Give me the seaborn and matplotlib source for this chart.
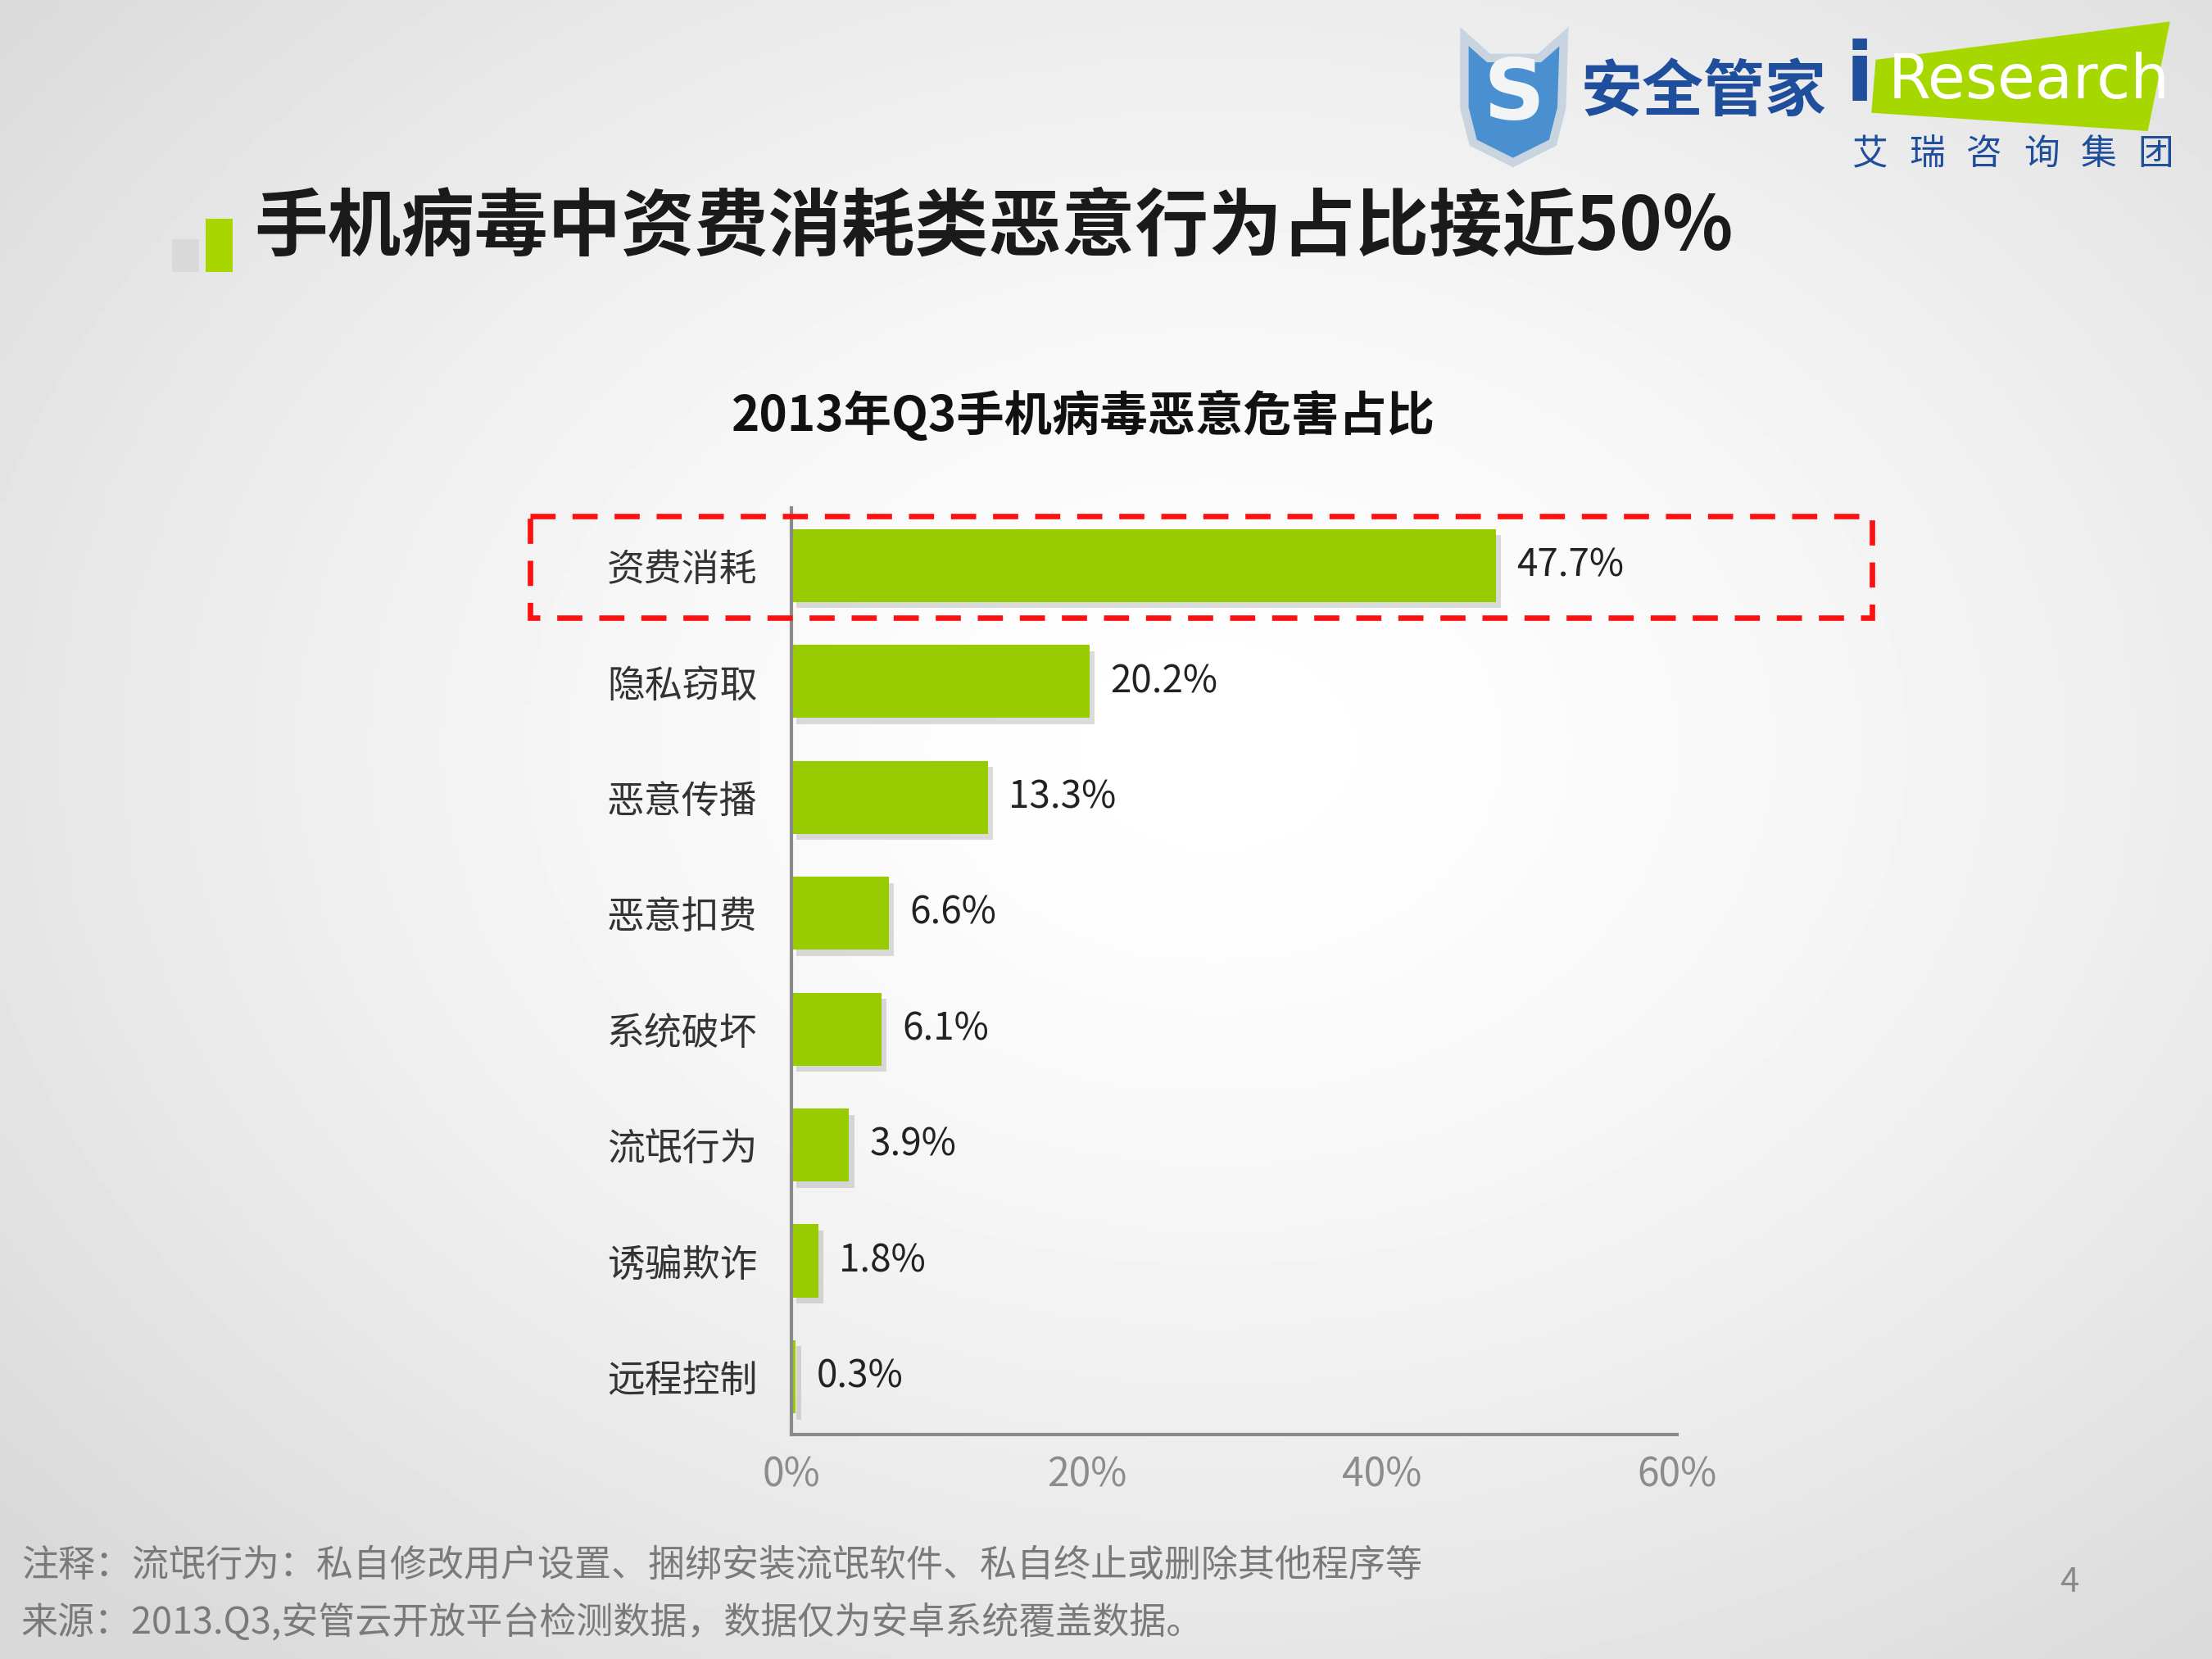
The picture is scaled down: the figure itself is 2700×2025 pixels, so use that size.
import numpy as np
import seaborn as sns
import matplotlib.pyplot as plt
import matplotlib.patches as mpatches
import matplotlib.patheffects as pe
from matplotlib.transforms import blended_transform_factory

# chart data
categories = ['资费消耗', '隐私窃取', '恶意传播', '恶意扣费', '系统破坏', '流氓行为', '诱骗欺诈', '远程控制']
shares = [47.7, 20.2, 13.3, 6.6, 6.1, 3.9, 1.8, 0.3]
xticks = [0, 20, 40, 60]
xtick_labels = ['0%', '20%', '40%', '60%']

main_title = '手机病毒中资费消耗类恶意行为占比接近50%'
chart_title = '2013年Q3手机病毒恶意危害占比'
note_text = '注释：流氓行为：私自修改用户设置、捆绑安装流氓软件、私自终止或删除其他程序等'
source_text = '来源：2013.Q3,安管云开放平台检测数据，数据仅为安卓系统覆盖数据。'

sns.set_style('white')
plt.rcParams['font.family'] = ['Noto Sans CJK SC', 'DejaVu Sans']

fig = plt.figure(figsize=(9, 6.75), dpi=300)

# radial grey-to-white slide background
bg = fig.add_axes([0, 0, 1, 1], zorder=-10)
yy, xx = np.mgrid[0:1:400j, 0:1:400j]
r = np.sqrt(((xx - 0.55) / 0.72) ** 2 + ((yy - 0.55) / 0.72) ** 2)
shade = 1.0 - 0.15 * np.clip(r, 0, 1) ** 1.5
bg.imshow(shade, cmap='gray', vmin=0, vmax=1, extent=[0, 1, 0, 1], aspect='auto', origin='lower')
bg.axis('off')

# bar chart
ax = fig.add_axes([0.3578, 0.1352, 0.4005, 0.5588])
ax.patch.set_alpha(0)
sns.barplot(x=shares, y=categories, orient='h', color='#99CC00', width=0.63,
            saturation=1, linewidth=0, ax=ax)
for bar in ax.patches:
    bar.set_path_effects([pe.SimplePatchShadow(offset=(1.5, -1.8), shadow_rgbFace='#9a9a9a', alpha=0.35),
                          pe.Normal()])
ax.bar_label(ax.containers[0], labels=[f'{v}%' for v in shares], padding=6,
             fontsize=11, color='#222222')

ax.set_xlim(0, 60)
ax.set_ylim(7.5, -0.5)
ax.set_xticks(xticks)
ax.set_xticklabels(xtick_labels, color='#8c8c8c', fontsize=11.5)
ax.tick_params(axis='x', length=0, pad=6)
ax.tick_params(axis='y', length=0, pad=10, labelsize=11, labelcolor='#333333')
ax.set_xlabel('')
ax.set_ylabel('')
sns.despine(ax=ax, top=True, right=True)
for side in ['left', 'bottom']:
    ax.spines[side].set_color('#8a8a8a')
    ax.spines[side].set_linewidth(1.0)

# red dashed highlight around the first category
tr = blended_transform_factory(fig.transFigure, ax.transData)
ax.add_patch(mpatches.Rectangle((0.2398, -0.43), 0.6065, 0.88, transform=tr, fill=False,
                                edgecolor='#ff1010', linewidth=1.6, linestyle=(0, (4.6, 3.1)),
                                clip_on=False, zorder=5))

# titles
fig.text(0.4898, 0.749, chart_title, ha='center', va='center', fontsize=14,
         fontweight='bold', color='#111111')
fig.text(0.115, 0.863, main_title, ha='left', va='center', fontsize=21.5,
         fontweight='bold', color='#1a1a1a')
fig.patches.append(mpatches.Rectangle((0.0778, 0.836), 0.0121, 0.0196, transform=fig.transFigure,
                                      facecolor='#d9d9d9', edgecolor='none'))
fig.patches.append(mpatches.Rectangle((0.0931, 0.836), 0.0121, 0.0323, transform=fig.transFigure,
                                      facecolor='#a8d400', edgecolor='none'))

# footnotes and page number
fig.text(0.0096, 0.0565, note_text, ha='left', va='center', fontsize=10.8, color='#7a7a7a')
fig.text(0.0096, 0.022, source_text, ha='left', va='center', fontsize=10.8, color='#7a7a7a')
fig.text(0.9355, 0.046, '4', ha='center', va='center', fontsize=10, color='#8a8a8a')

# logo: shield + 安全管家
shield = [(0.662, 0.978), (0.673, 0.965), (0.696, 0.965), (0.707, 0.978), (0.706, 0.935),
          (0.702, 0.914), (0.684, 0.902), (0.666, 0.914), (0.662, 0.935)]
fig.patches.append(mpatches.Polygon(shield, closed=True, transform=fig.transFigure,
                                    facecolor='#4a8fd0', edgecolor='#c8d4df', linewidth=2.5))
fig.text(0.6845, 0.942, 'S', ha='center', va='center', fontsize=25, fontweight='bold',
         color='#f2f4f6', family='DejaVu Sans')
fig.text(0.7145, 0.944, '安全管家', ha='left', va='center', fontsize=18, fontweight='bold',
         color='#1f4e9c')

# logo: iResearch
para = [(0.848, 0.964), (0.981, 0.987), (0.971, 0.921), (0.846, 0.932)]
fig.patches.append(mpatches.Polygon(para, closed=True, transform=fig.transFigure,
                                    facecolor='#a6d800', edgecolor='none'))
fig.text(0.8405, 0.953, 'i', ha='center', va='center', fontsize=24, fontweight='bold',
         color='#1f4e9c', family='DejaVu Sans')
fig.text(0.8535, 0.951, 'Research', ha='left', va='center', fontsize=18, color='white',
         family='DejaVu Sans')
for k, ch in enumerate('艾瑞咨询集团'):
    fig.text(0.8455 + k * 0.0258, 0.907, ch, ha='center', va='center', fontsize=10.5,
             color='#1f4e9c')

fig.savefig('out.png', dpi=300)
